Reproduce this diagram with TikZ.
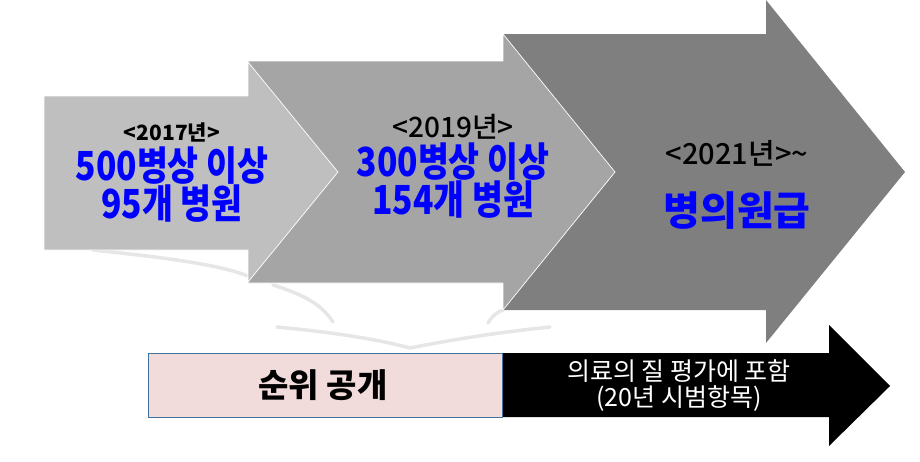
\documentclass[tikz,border=0pt]{standalone}
\usepackage{fontspec}
\usepackage{tikz}
\usetikzlibrary{arrows.meta,positioning,calc}
\setmainfont{Noto Sans CJK KR}
\newfontfamily\heavyfont[FakeStretch=0.84]{Noto Sans CJK KR Black}
\newfontfamily\midfont{Noto Sans CJK KR Medium}
\definecolor{StepOne}{HTML}{BFBFBF}
\definecolor{StepTwo}{HTML}{A5A5A5}
\definecolor{StepThree}{HTML}{7F7F7F}
\definecolor{Blush}{HTML}{F2DCDB}
\definecolor{Frame}{HTML}{41719C}
\definecolor{Glint}{HTML}{E6E6E6}
\definecolor{Royal}{HTML}{0000FF}
\tikzset{
  chevron/.style={draw=white, line width=0.7pt, line join=miter},
  glint/.style={draw=Glint, line width=3.5pt, line cap=round},
  yeartag/.style={align=center, inner sep=0pt, text=black},
  headline/.style={align=center, inner sep=0pt, text=Royal,
                   font=\heavyfont\fontsize{40}{38}\selectfont},
  rankbox/.style={draw=Frame, line width=0.9pt, fill=Blush},
  pointer/.style={fill=black},
}
\begin{document}
\begin{tikzpicture}[x=1pt, y=-1pt]
  \useasboundingbox (0,0) rectangle (920,461);
  \draw[glint] (93,250) .. controls (170,258) and (220,265) .. (248,276);
  \draw[glint] (273,285) .. controls (305,295) and (322,305) .. (333,322);
  \draw[glint] (277,327) .. controls (340,333) and (380,340) .. (410,348)
                         .. controls (450,340) and (500,332) .. (550,327);
  \draw[glint] (488,323) .. controls (492,316) and (497,312) .. (503,310);
  \fill[StepThree] (503,34) -- (766,34) -- (766,0) -- (905,172) -- (766,343)
    -- (766,310) -- (503,310) -- cycle;
  \filldraw[chevron, fill=StepTwo] (248,61) -- (503,61) -- (503,34) -- (615,172)
    -- (503,310) -- (503,283) -- (248,283) -- cycle;
  \filldraw[chevron, fill=StepOne] (44,96) -- (248,96) -- (248,62) -- (338,172)
    -- (248,282) -- (248,250) -- (44,250) -- cycle;
  \node[yeartag, font=\bfseries\fontsize{21}{24}\selectfont] (year17) at (172,132) {<2017년>};
  \node[headline] (goal17) at (172,185) {500병상 이상\\95개 병원};
  \node[yeartag, font=\midfont\fontsize{28}{30}\selectfont] (year19) at (453,127) {<2019년>};
  \node[headline] (goal19) at (453,181) {300병상 이상\\154개 병원};
  \node[yeartag, font=\midfont\fontsize{29}{30}\selectfont] (year21) at (737,153) {<2021년>\textasciitilde};
  \node[headline, font=\bfseries\fontsize{40}{42}\selectfont] (goal21) at (737,211) {병의원급};
  \fill[pointer] (502,353) -- (829,353) -- (829,325) -- (890,386) -- (829,446)
    -- (829,417) -- (502,417) -- cycle;
  \draw[rankbox] (148,353) rectangle (502,417);
  \node[inner sep=0pt, font=\bfseries\fontsize{33}{35}\selectfont] (rank) at (323,385) {순위 공개};
  \node[inner sep=0pt, align=center, text=white, font=\fontsize{25}{26}\selectfont]
    (quality) at (679,386) {의료의 질 평가에 포함\\(20년 시범항목)};
\end{tikzpicture}
\end{document}
